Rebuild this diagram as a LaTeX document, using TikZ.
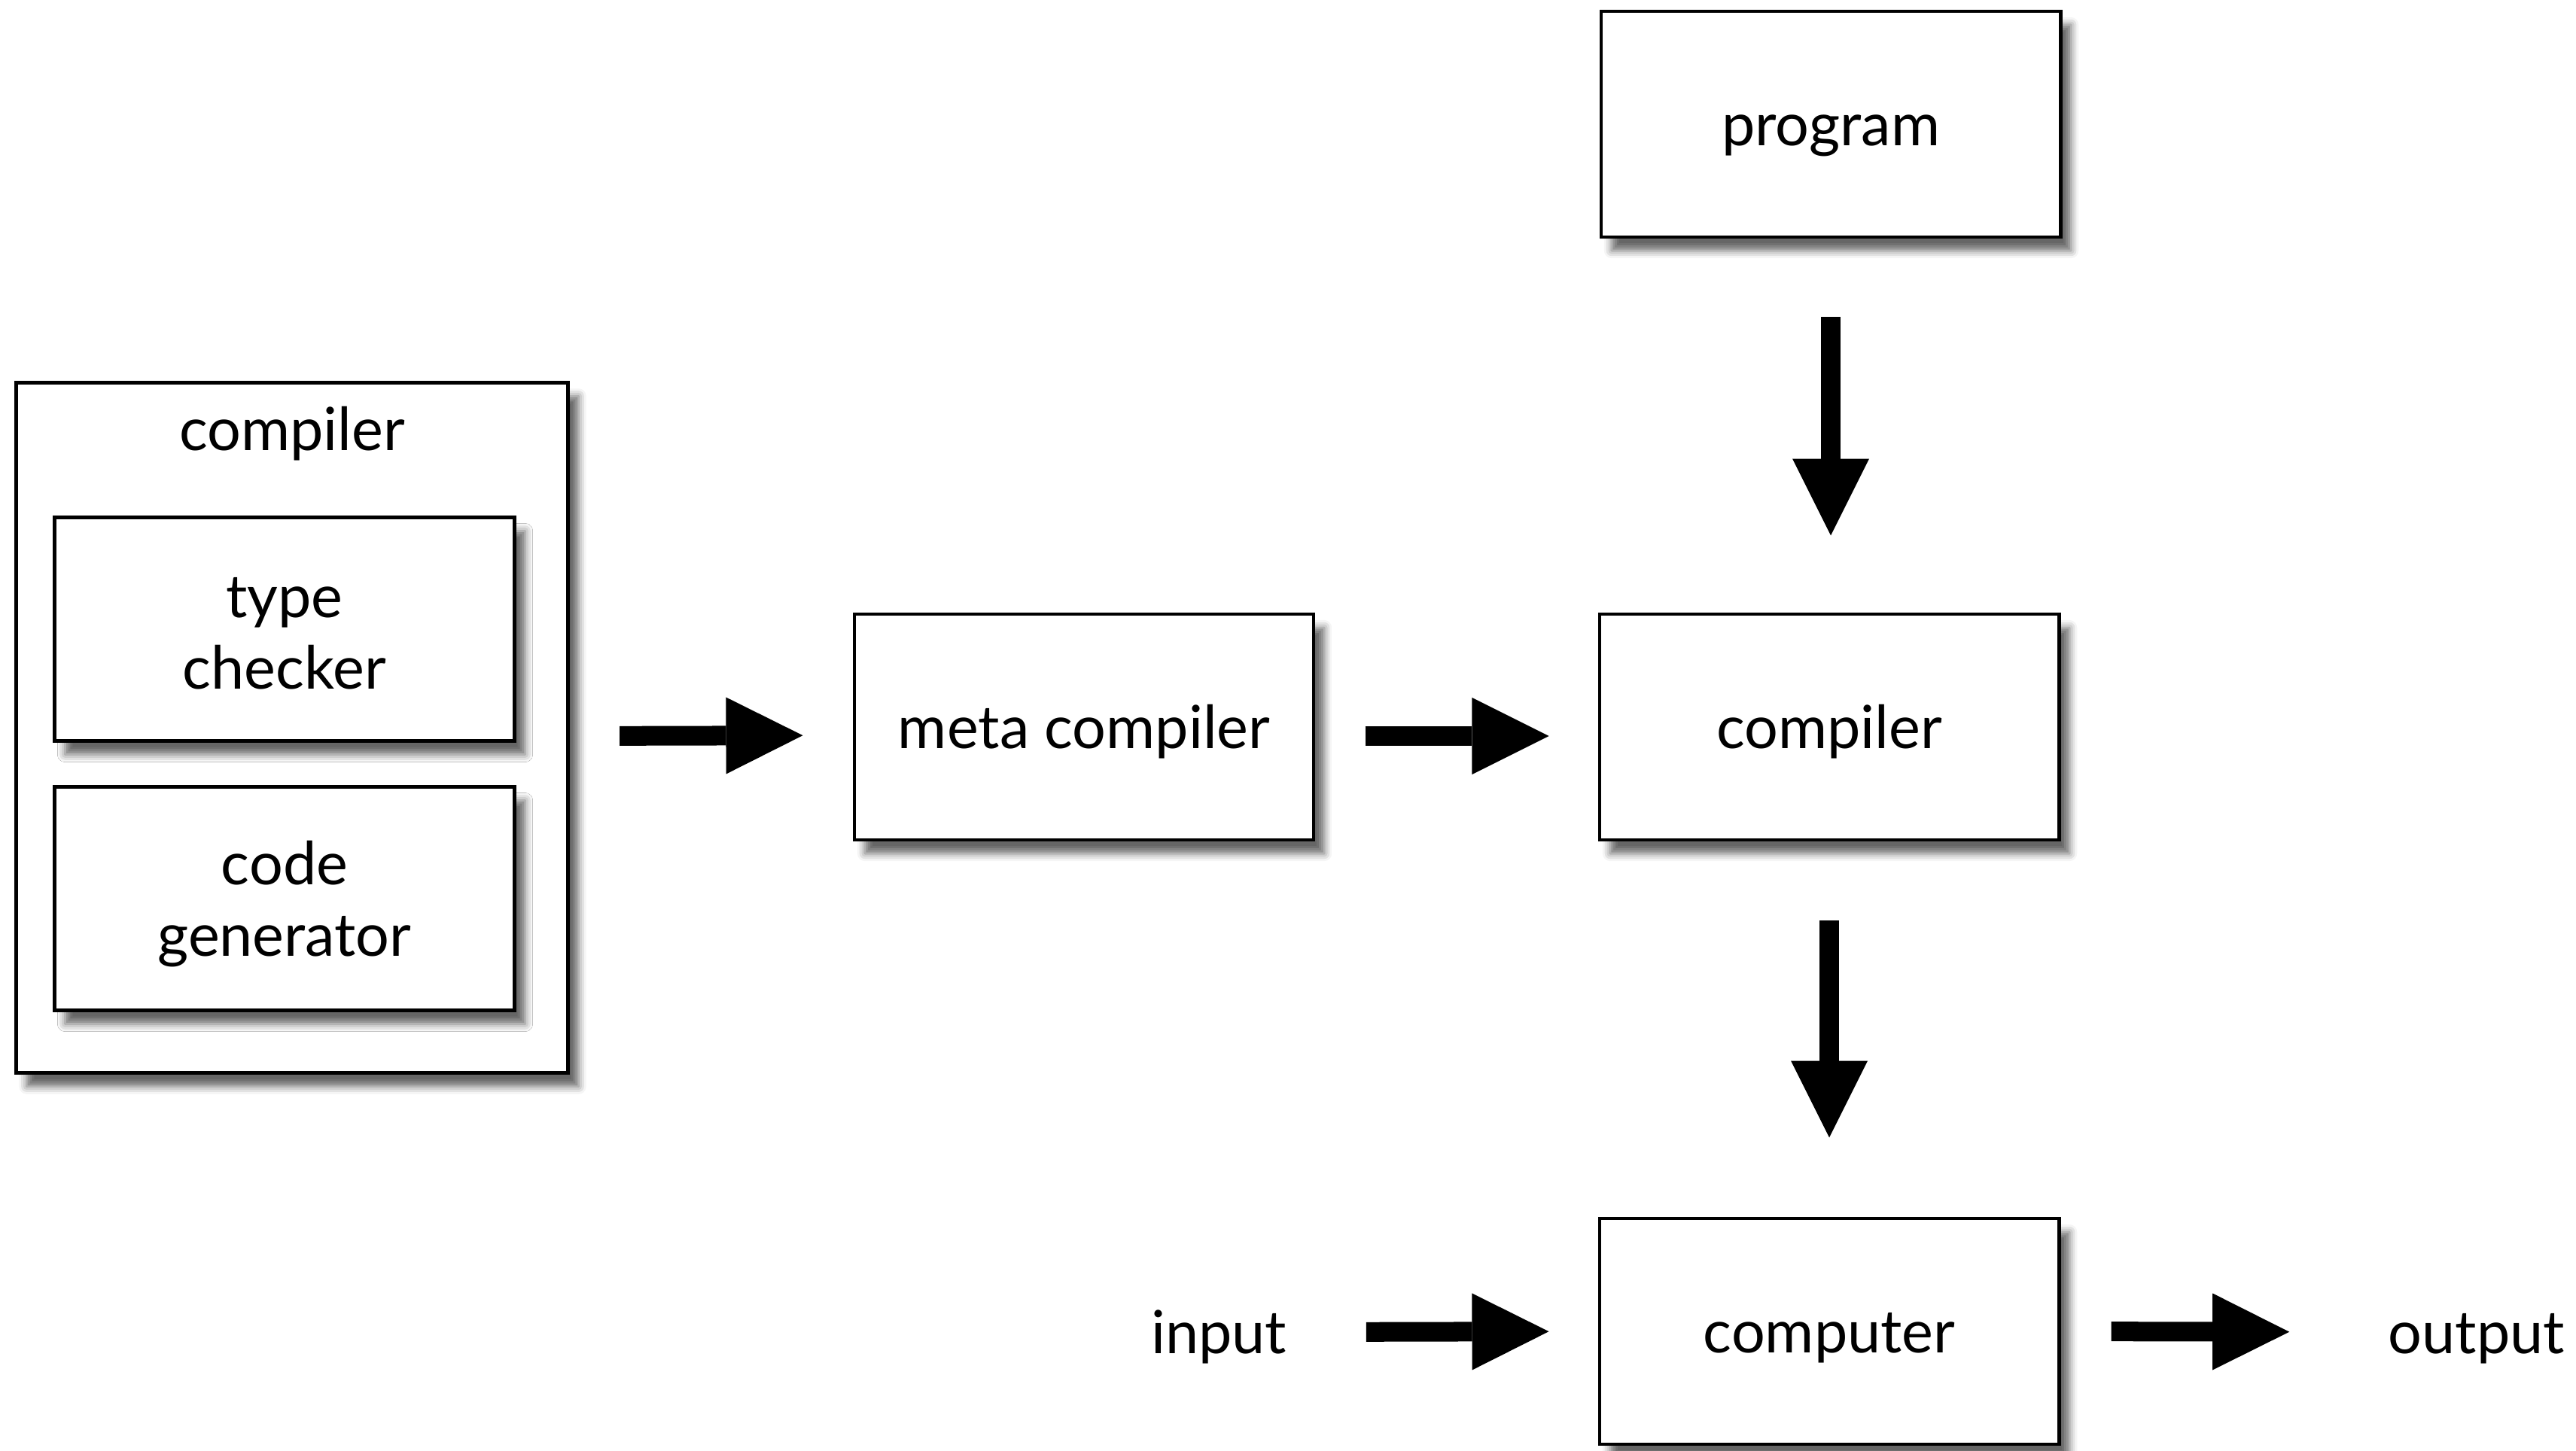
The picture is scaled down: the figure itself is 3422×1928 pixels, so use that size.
\documentclass[tikz,border=0pt]{standalone}
\usepackage{fontspec}
\setmainfont{Lato}
\usetikzlibrary{arrows.meta,shadows.blur}

\tikzset{
  box/.style={draw=black, line width=1.3pt, fill=white, minimum width=6.1cm,
    minimum height=3.0cm, align=center, inner sep=0pt,
    text height=0.56cm, text depth=0cm,
    blur shadow={shadow xshift=0.14cm, shadow yshift=-0.18cm,
      shadow blur radius=0.1cm, shadow opacity=60}},
  innerbox/.style={box, minimum width=6.11cm, minimum height=2.97cm},
  label/.style={inner sep=0pt, align=center, text height=0.56cm, text depth=0cm},
  twoline/.style={inner sep=0pt, align=center},
  bigarrow/.style={line width=0.26cm,
    -{Triangle[length=1.02cm, width=1.02cm, line width=0pt]}},
}

\begin{document}
\begin{tikzpicture}[x=0.01cm, y=-0.01cm,
  every node/.append style={font=\fontsize{22.5pt}{27pt}\selectfont}]
  \useasboundingbox (0,0) rectangle (3422,1928);

  % left: the compiler with its two parts
  \node[box, minimum width=7.33cm, minimum height=9.17cm] (outer) at (388,967) {};
  \node[label] (title) at (388,570) {compiler};
  \node[innerbox] (tc) at (378,836) {};
  \node[twoline] (tctext) at ([yshift=-0.06cm]tc.center) {type\\checker};
  \node[innerbox] (cg) at (378,1194) {};
  \node[twoline] (cgtext) at ([yshift=-0.07cm]cg.center) {code\\generator};

  % the chain on the right
  \node[box] (meta) at (1440,966) {meta compiler};
  \node[box] (prog) at (2432,165) {program};
  \node[box] (comp) at (2430,966) {compiler};
  \node[box] (cpu)  at (2430,1769) {computer};

  \node[label, minimum width=2.2cm] (in)  at (1619,1770) {input};
  \node[label, minimum width=2.2cm] (out) at (3290,1770) {output};

  % connectors
  \draw[bigarrow, shorten <=0.66cm, shorten >=0.66cm]
    ([yshift=-0.11cm]outer.east) -- ([yshift=-0.11cm]meta.west);
  \draw[bigarrow, shorten <=0.66cm, shorten >=0.65cm]
    ([yshift=-0.12cm]meta.east) -- ([yshift=-0.12cm]comp.west);
  \draw[bigarrow, shorten <=1.04cm, shorten >=1.02cm]
    (prog.south) -- (prog.south |- comp.north);
  \draw[bigarrow, shorten <=1.05cm, shorten >=1.05cm]
    (comp.south) -- (cpu.north);
  \draw[bigarrow, shorten <=0.85cm, shorten >=0.65cm]
    (in.east) -- (cpu.west);
  \draw[bigarrow, shorten <=0.67cm, shorten >=1.31cm]
    (cpu.east) -- (out.west);
\end{tikzpicture}
\end{document}
